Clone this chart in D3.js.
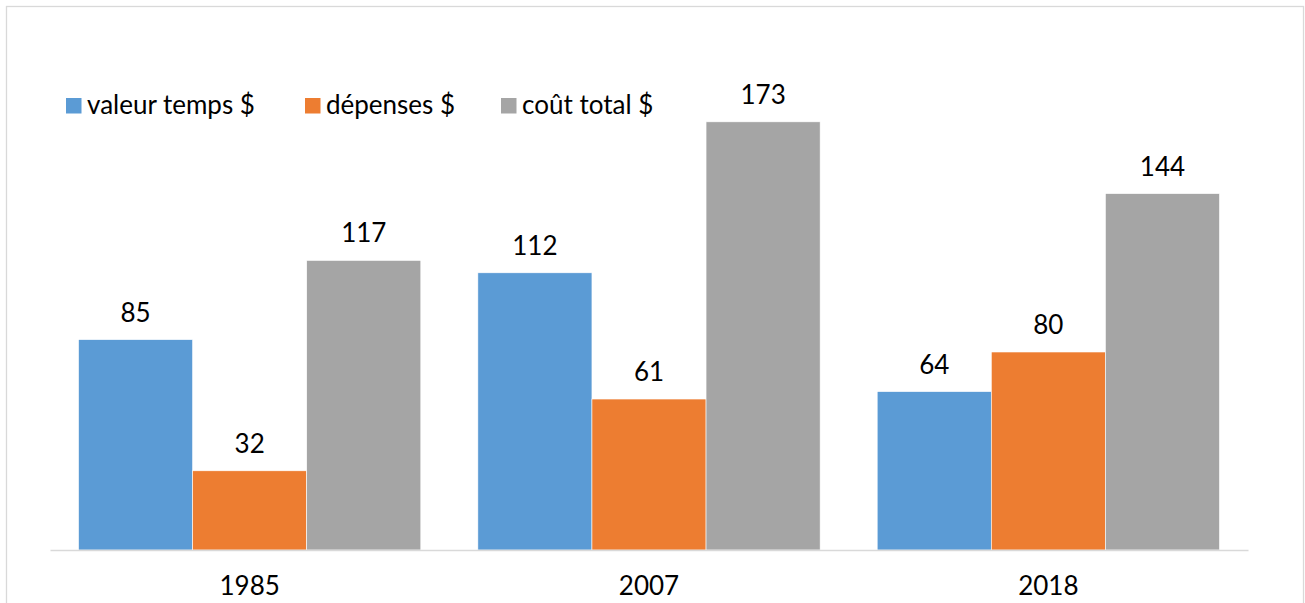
<!DOCTYPE html>
<html>
<head>
<meta charset="utf-8">
<script src="https://cdn.jsdelivr.net/npm/d3@7"></script>
<style>
  html, body { margin: 0; padding: 0; background: #ffffff; }
  svg { display: block; }
  text { font-family: Lato, "Open Sans", sans-serif; fill: #000; }
</style>
</head>
<body>
<svg id="chart" width="1305" height="603"></svg>
<script>
const categories = ["1985", "2007", "2018"];
const seriesNames = ["valeur temps $", "dépenses $", "coût total $"];
const seriesColors = ["#5B9BD5", "#ED7D31", "#A5A5A5"];
const valeurTemps = [85, 112, 64];
const depenses = [32, 61, 80];
const coutTotal = [117, 173, 144];
const seriesValues = [valeurTemps, depenses, coutTotal];

const svg = d3.select("#chart");
const fontSize = 26;

// chart border
svg.append("rect")
  .attr("x", 6.5).attr("y", 6.5)
  .attr("width", 1297).attr("height", 620)
  .attr("fill", "#fff")
  .attr("stroke", "#d9d9d9").attr("stroke-width", 1.3);

const plot = { left: 50, right: 1248, top: 55, bottom: 550 };

const x0 = d3.scaleBand().domain(categories).range([plot.left, plot.right]).padding(0);
const x1 = d3.scaleBand().domain(seriesNames).range([0, x0.bandwidth()])
  .paddingInner(0).paddingOuter(0.25);
const y = d3.scaleLinear().domain([0, 200]).range([plot.bottom, plot.top]);

const data = [];
categories.forEach((c, ci) => {
  seriesNames.forEach((s, si) => {
    data.push({ cat: c, series: s, si, value: seriesValues[si][ci] });
  });
});

const g = svg.append("g");
g.selectAll("rect.bar").data(data).enter().append("rect")
  .attr("class", "bar")
  .attr("x", d => x0(d.cat) + x1(d.series))
  .attr("width", x1.bandwidth())
  .attr("y", d => y(d.value))
  .attr("height", d => y(0) - y(d.value))
  .attr("fill", d => seriesColors[d.si])
  .attr("stroke", "#ffffff").attr("stroke-width", 0.6);

g.selectAll("text.lbl").data(data).enter().append("text")
  .attr("class", "lbl")
  .attr("x", d => x0(d.cat) + x1(d.series) + x1.bandwidth() / 2)
  .attr("y", d => y(d.value) - 18)
  .attr("text-anchor", "middle")
  .attr("font-size", fontSize)
  .text(d => d.value);

// x axis
const xAxis = d3.axisBottom(x0).tickSize(0).tickPadding(0);
const ax = svg.append("g").attr("transform", `translate(0,${plot.bottom})`).call(xAxis);
ax.select(".domain").attr("stroke", "#d9d9d9").attr("stroke-width", 1.5);
ax.selectAll(".tick text")
  .attr("font-size", fontSize)
  .attr("font-family", "Lato, 'Open Sans', sans-serif")
  .attr("fill", "#000")
  .attr("dy", 0).attr("y", 45);

// legend
const legendX = [66, 305, 501];
const leg = svg.append("g");
seriesNames.forEach((s, i) => {
  leg.append("rect")
    .attr("x", legendX[i]).attr("y", 98)
    .attr("width", 15.5).attr("height", 15.5)
    .attr("fill", seriesColors[i]);
  leg.append("text")
    .attr("x", legendX[i] + 21).attr("y", 114)
    .attr("font-size", fontSize)
    .text(s);
});
</script>
</body>
</html>
